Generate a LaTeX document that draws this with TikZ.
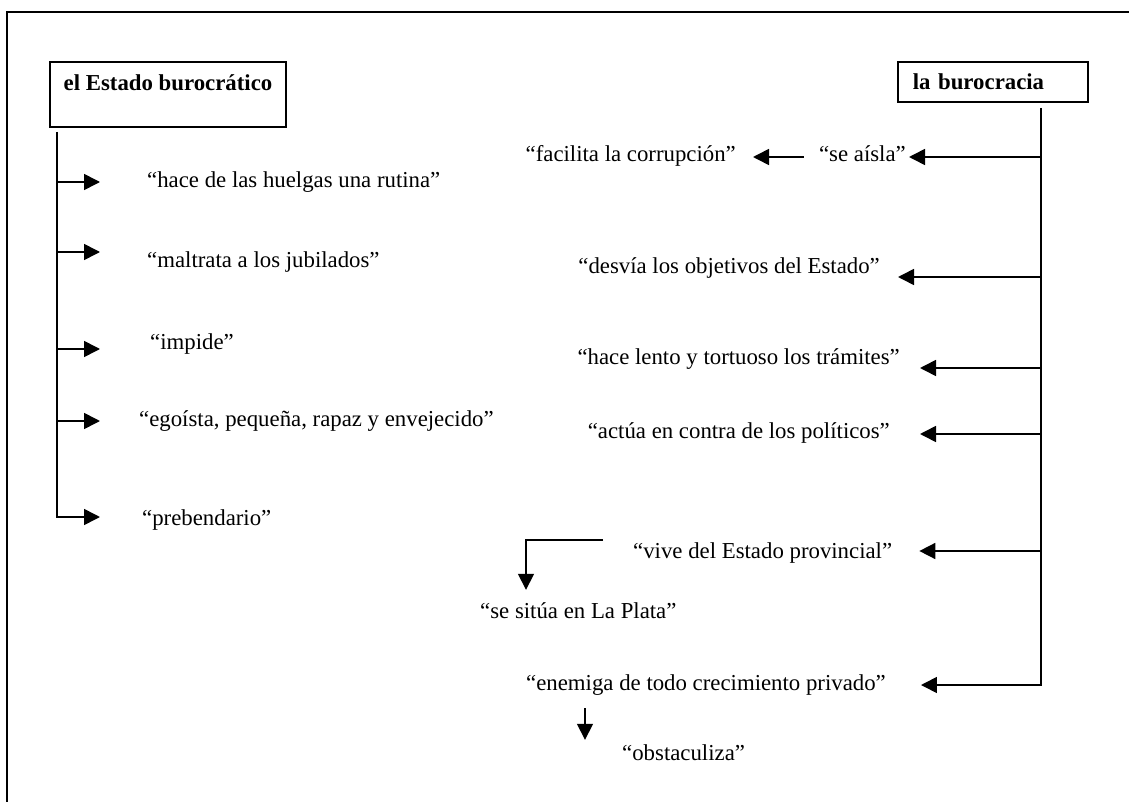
\documentclass[tikz,border=0pt]{standalone}
\usepackage{fontspec}
\setmainfont{Liberation Serif}
\usetikzlibrary{arrows.meta}

\begin{document}
\begin{tikzpicture}[x=1pt,y=-1pt,
  txt/.style={inner sep=0pt,text height=16pt,text depth=5pt,font=\fontsize{22.8}{27}\selectfont},
  hdr/.style={draw,line width=1.6pt,inner xsep=15pt,inner ysep=0pt,anchor=north west,font=\fontsize{22.8}{27}\selectfont\bfseries},
  ln/.style={line width=1.6pt},
  arr/.style={line width=1.6pt,-{Triangle[length=16pt,width=16pt]}}]

\useasboundingbox (0,0) rectangle (1129,802);
%frame (only top and left are seen)
\draw[line width=2.4pt] (7,802) -- (7,12) -- (1129,12);

\node[hdr,inner xsep=0pt,minimum width=236.4pt,text height=28.7pt,text depth=36.7pt] (estado) at (49,61) {el Estado burocrático};
\node[hdr,align=left,text width=160.4pt,text height=28.2pt,text depth=12.2pt] (burocracia) at (897,61) {la burocracia};

% left side
\node[txt,anchor=west] (huelgas) at (147,182.5) {“hace de las huelgas una rutina”};
\node[txt,anchor=west] (jubilados) at (147,262.5) {“maltrata a los jubilados”};
\node[txt,anchor=west] (impide) at (150,343.5) {“impide”};
\node[txt,anchor=west] (egoista) at (139,420.5) {“egoísta, pequeña, rapaz y envejecido”};
\node[txt,anchor=west] (prebendario) at (142,519.5) {“prebendario”};

% right side
\node[txt,anchor=east] (aisla) at (906,156.5) {“se aísla”};
\node[txt,anchor=east] (corrupcion) at (736,156.5) {“facilita la corrupción”};
\node[txt,anchor=east] (desvia) at (880,267.5) {“desvía los objetivos del Estado”};
\node[txt,anchor=east] (tramites) at (900,358.5) {“hace lento y tortuoso los trámites”};
\node[txt,anchor=east] (politicos) at (890,432.5) {“actúa en contra de los políticos”};
\node[txt,anchor=west] (provincial) at (633,552.5) {“vive del Estado provincial”};
\node[txt,anchor=west] (plata) at (480,612.5) {“se sitúa en La Plata”};
\node[txt,anchor=west] (privado) at (526,684.5) {“enemiga de todo crecimiento privado”};
\node[txt,anchor=west] (obstaculiza) at (622,754.5) {“obstaculiza”};

\coordinate (ltop) at ([xshift=8pt,yshift=-4pt]estado.south west);
\coordinate (l1) at (57,182);
\coordinate (l2) at (57,252);
\coordinate (l3) at (57,349);
\coordinate (l4) at (57,421);
\coordinate (l5) at (57,517);

\coordinate (rtop) at ([xshift=-48pt,yshift=-5pt]burocracia.south east);
\coordinate (r1) at (1041,157);
\coordinate (r2) at (1041,277);
\coordinate (r3) at (1041,368);
\coordinate (r4) at (1041,434);
\coordinate (r5) at (1041,551);
\coordinate (r6) at (1041,685);

\draw[arr,shorten >=42pt] (ltop) -- (l5) -- (l5 -| prebendario.west);
\draw[arr,shorten >=47pt] (l1) -- (l1 -| huelgas.west);
\draw[arr,shorten >=47pt] (l2) -- (l2 -| jubilados.west);
\draw[arr,shorten >=50pt] (l3) -- (l3 -| impide.west);
\draw[arr,shorten >=39pt] (l4) -- (l4 -| egoista.west);

\draw[arr,shorten >=35pt] (rtop) -- (r6) -- (r6 -| privado.east);
\draw[arr,shorten >=3pt] (r1) -- (r1 -| aisla.east);
\draw[arr,shorten <=15pt,shorten >=17pt] (r1 -| aisla.west) -- (r1 -| corrupcion.east);
\draw[arr,shorten >=18pt] (r2) -- (r2 -| desvia.east);
\draw[arr,shorten >=20pt] (r3) -- (r3 -| tramites.east);
\draw[arr,shorten >=30pt] (r4) -- (r4 -| politicos.east);
\draw[arr,shorten >=27pt] (r5) -- (r5 -| provincial.east);

\coordinate (b1) at (603,540);
\draw[arr,shorten >=12pt] (b1) -| ([xshift=46pt]plata.north west);
\coordinate (d1) at ([xshift=59pt]privado.south west);
\draw[arr,shorten <=13pt,shorten >=4pt] (d1) -- (d1 |- obstaculiza.north);
\end{tikzpicture}
\end{document}
